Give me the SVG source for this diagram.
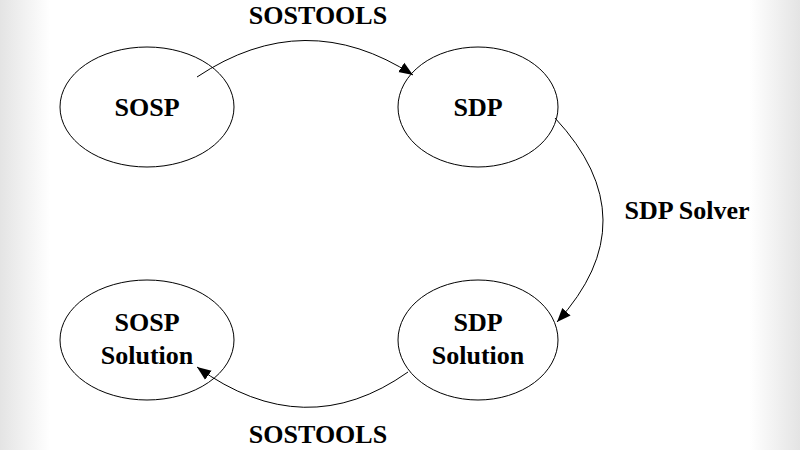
<svg xmlns="http://www.w3.org/2000/svg" width="800" height="450" viewBox="0 0 800 450">
<defs>
<style>
.n{fill:#fff;stroke:#000;stroke-width:1}
.t{font-family:"Liberation Serif",serif;font-weight:bold;font-size:26px;text-anchor:middle;fill:#000}
.c{fill:none;stroke:#000;stroke-width:1}
</style>
<marker id="a" viewBox="0 0 10 10" refX="10" refY="5" markerWidth="14" markerHeight="14" markerUnits="userSpaceOnUse" orient="auto"><path d="M0,1 L10,5 L0,9 Z" fill="#000"/></marker>
<linearGradient id="gl" x1="0" x2="1"><stop offset="0" stop-color="#e4e4e4"/><stop offset="1" stop-color="#fff"/></linearGradient>
<linearGradient id="gr" x1="1" x2="0"><stop offset="0" stop-color="#e4e4e4"/><stop offset="1" stop-color="#fff"/></linearGradient>
</defs>
<rect width="800" height="450" fill="#fff"/>
<rect x="0" y="0" width="50" height="450" fill="url(#gl)"/>
<rect x="750" y="0" width="50" height="450" fill="url(#gr)"/>
<g id="sosp"><ellipse class="n" cx="147" cy="107" rx="87" ry="60"/><text class="t" x="147" y="116">SOSP</text></g>
<g id="sdp"><ellipse class="n" cx="478" cy="107" rx="80" ry="60"/><text class="t" x="478" y="116">SDP</text></g>
<g id="sospsol"><ellipse class="n" cx="147" cy="340" rx="87" ry="60"/><text class="t" x="147" y="331">SOSP</text><text class="t" x="147" y="364">Solution</text></g>
<g id="sdpsol"><ellipse class="n" cx="478" cy="340" rx="80" ry="60"/><text class="t" x="478" y="331">SDP</text><text class="t" x="478" y="364">Solution</text></g>
<g id="connectors">
<path class="c" d="M197,77 Q305,5 413,75" marker-end="url(#a)"/>
<path class="c" d="M555,118 Q650,220 557,322" marker-end="url(#a)"/>
<path class="c" d="M408,372 Q305,445 197,367" marker-end="url(#a)"/>
</g>
<text class="t" x="318" y="24">SOSTOOLS</text>
<text class="t" x="687" y="219">SDP Solver</text>
<text class="t" x="318" y="443">SOSTOOLS</text>
</svg>
